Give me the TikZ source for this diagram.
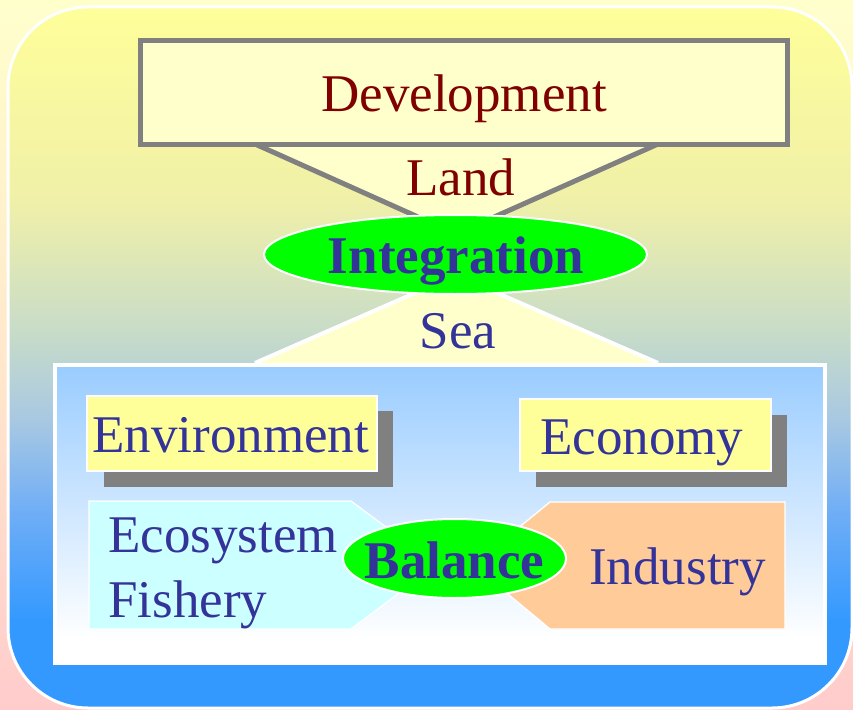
\documentclass[tikz,border=0pt]{standalone}
\usepackage{fontspec}
\setmainfont{Liberation Serif}
\usetikzlibrary{shapes.geometric}
\definecolor{textblue}{HTML}{333399}
\definecolor{darkred}{HTML}{800000}
\definecolor{lightyellow}{HTML}{FFFFCC}
\definecolor{boxyellow}{HTML}{FFFF99}
\definecolor{shadowgray}{HTML}{808080}
\definecolor{ecocyan}{HTML}{CCFFFF}
\definecolor{indorange}{HTML}{FFCC99}
\definecolor{brightgreen}{HTML}{00FF00}
\definecolor{skyblue}{HTML}{99CCFF}
\definecolor{deepblue}{HTML}{3399FF}
\definecolor{pagetop}{HTML}{FFFFCC}
\definecolor{pagemid}{HTML}{FFE8CC}
\definecolor{pagebot}{HTML}{FFCCCC}
\definecolor{bgA}{HTML}{F0F0A8}
\definecolor{bgB}{HTML}{C8DCC8}
\definecolor{bgC}{HTML}{A8C8E2}
\definecolor{bgD}{HTML}{70AEF6}
\tikzset{
  lbl/.style={anchor=base, inner sep=0pt, font=\fontsize{39.75}{44}\selectfont},
  lblw/.style={lbl, anchor=base west},
  blue text/.style={text=textblue},
  red text/.style={text=darkred},
  boldlbl/.style={lbl, font=\fontsize{39.75}{44}\selectfont\bfseries},
  card/.style={draw=white, line width=1.5pt, fill=boxyellow, inner sep=0pt},
  cardshadow/.style={fill=shadowgray, inner sep=0pt},
  oval/.style={ellipse, draw=white, line width=1.5pt, fill=brightgreen, inner sep=0pt},
}
\begin{document}
\begin{tikzpicture}[x=0.75pt, y=-0.75pt]
\useasboundingbox (0,0) rectangle (853,710);
% page background
\fill[top color=pagetop, bottom color=pagemid] (0,0) rectangle (853,355.5);
\fill[top color=pagemid, bottom color=pagebot] (0,355) rectangle (853,710);
% big rounded panel
\begin{scope}
\clip[rounded corners=60pt] (8,7) rectangle (852,708);
\fill[top color=boxyellow, bottom color=bgA] (0,0) rectangle (853,201);
\fill[top color=bgA, bottom color=bgB] (0,200) rectangle (853,331);
\fill[top color=bgB, bottom color=bgC] (0,330) rectangle (853,421);
\fill[top color=bgC, bottom color=bgD] (0,420) rectangle (853,511);
\fill[top color=bgD, bottom color=deepblue] (0,510) rectangle (853,621);
\fill[deepblue] (0,620) rectangle (853,710);
\end{scope}
\draw[white, line width=2.25pt, rounded corners=60pt] (8,7) rectangle (852,708);
% land triangle
\coordinate (landL) at (255,144);
\coordinate (landR) at (658,144);
\coordinate (landApex) at (456,234);
\fill[lightyellow] (landL) -- (landApex) -- (landR) -- cycle;
\draw[shadowgray, line width=3.75pt] (landL) -- (landApex) -- (landR);
% development box
\node[draw=shadowgray, line width=3.75pt, fill=lightyellow, inner sep=0pt,
      minimum width=647*0.75pt, minimum height=103.5*0.75pt] (dev) at (463.5,92.25) {};
% sea triangle
\coordinate (seaL) at (255,363);
\coordinate (seaR) at (658,363);
\coordinate (seaApex) at (456,275);
\fill[lightyellow] (seaL) -- (seaApex) -- (seaR) -- cycle;
\draw[white, line width=3pt] (seaL) -- (seaApex) -- (seaR);
% inner panel
\fill[top color=skyblue, bottom color=white] (55,364.5) rectangle (825,640);
\fill[white] (55,639) rectangle (825,663);
\draw[white, line width=3pt] (55,364.5) rectangle (825,663);
% integration ellipse
\node[oval, minimum width=383*0.75pt, minimum height=79*0.75pt] (integ) at (455.5,254.5) {};
% cards with shadows
\node[cardshadow, minimum width=289*0.75pt, minimum height=76*0.75pt] (envsh) at (248.5,449) {};
\node[card, minimum width=290*0.75pt, minimum height=75*0.75pt] (env) at (232,433.5) {};
\node[cardshadow, minimum width=251*0.75pt, minimum height=72*0.75pt] (ecosh) at (661.5,451) {};
\node[card, minimum width=251*0.75pt, minimum height=72*0.75pt] (econ) at (645.5,435) {};
% pentagons
\filldraw[fill=ecocyan, draw=white, line width=1pt]
  (89,501) -- (351,501) -- (437,565) -- (351,629) -- (89,629) -- cycle;
\filldraw[fill=indorange, draw=white, line width=1pt]
  (785,502) -- (550,502) -- (473,565) -- (550,629) -- (785,629) -- cycle;
% balance ellipse
\node[oval, minimum width=223*0.75pt, minimum height=79*0.75pt] (bal) at (454.5,558.5) {};
% texts
\node[lbl, red text] (tdev) at (464,112) {Development};
\node[lbl, red text] (tland) at (461,195) {Land};
\node[boldlbl, blue text] (tinteg) at (456,273) {Integration};
\node[lbl, blue text] (tsea) at (458,348) {Sea};
\node[lblw, blue text] (tenv) at (92,452) {Environment};
\node[lblw, blue text] (tecon) at (540,454) {Economy};
\node[lblw, blue text] (teco) at (108,552) {Ecosystem};
\node[lblw, blue text] (tfish) at (108,617) {Fishery};
\node[boldlbl, blue text] (tbal) at (454.5,578) {Balance};
\node[lblw, blue text] (tind) at (589,584) {Industry};
\end{tikzpicture}
\end{document}
